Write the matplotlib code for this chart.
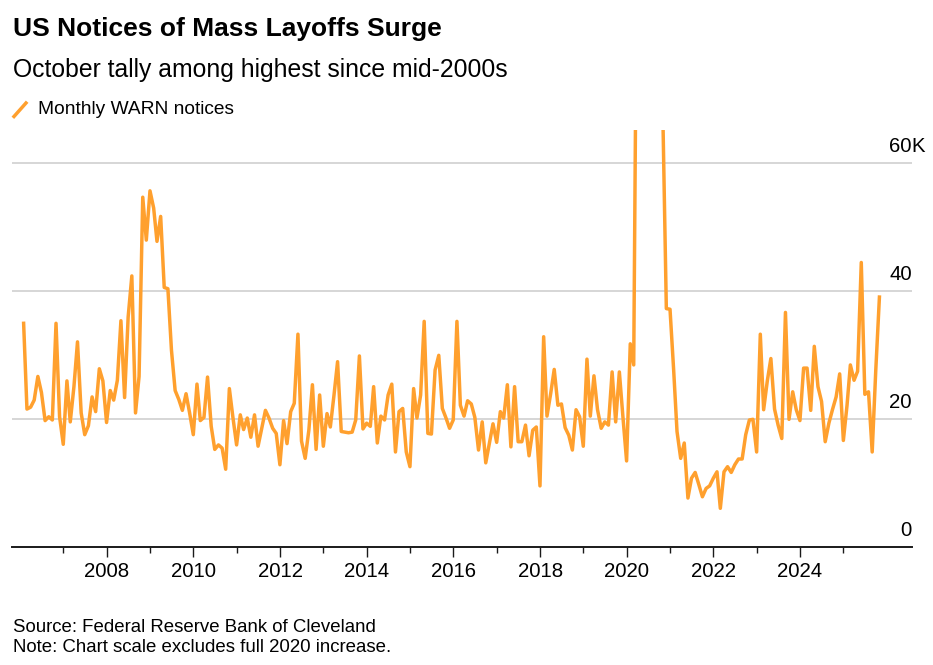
import pandas as pd
import matplotlib
matplotlib.use("Agg")
import matplotlib.pyplot as plt
from matplotlib.lines import Line2D
import matplotlib.transforms as mtransforms

plt.rcParams['font.family'] = ['Liberation Sans', 'DejaVu Sans']

# Monthly WARN notices (thousands), Jan 2006 .. Oct 2025
first_month = "2006-01"
warn_notices_k = [
    34.9, 21.5, 21.8, 22.9, 26.6, 24.1, 19.7, 20.3, 19.8, 34.9, 20.3, 16.0,   # 2006
    25.9, 19.5, 25.0, 32.0, 20.9, 17.5, 18.9, 23.4, 21.1, 27.8, 25.9, 19.4,   # 2007
    24.4, 22.9, 26.0, 35.3, 23.3, 35.9, 42.3, 20.9, 26.6, 54.6, 47.9, 55.6,   # 2008
    52.9, 47.7, 51.6, 40.5, 40.3, 30.7, 24.4, 23.0, 21.3, 23.9, 20.9, 17.5,   # 2009
    25.4, 19.7, 20.2, 26.5, 18.8, 15.2, 15.9, 15.4, 12.1, 24.7, 20.2, 15.9,   # 2010
    20.6, 18.3, 20.1, 17.1, 20.6, 15.7, 18.5, 21.3, 20.1, 18.5, 17.7, 12.8,   # 2011
    19.7, 16.1, 21.1, 22.4, 33.2, 16.5, 13.8, 18.2, 25.3, 15.2, 23.7, 15.7,   # 2012
    20.8, 18.7, 23.7, 28.9, 18.0, 17.9, 17.8, 17.9, 19.8, 29.8, 18.4, 19.3,   # 2013
    18.8, 25.0, 16.2, 20.4, 19.8, 23.7, 25.4, 14.8, 21.1, 21.6, 14.8, 12.5,   # 2014
    24.7, 20.1, 23.7, 35.2, 17.7, 17.6, 27.6, 29.9, 21.6, 20.1, 18.5, 19.8,   # 2015
    35.2, 22.1, 20.4, 22.8, 22.3, 20.2, 15.1, 19.5, 13.1, 16.2, 19.2, 16.3,   # 2016
    21.1, 20.1, 25.3, 15.6, 25.0, 16.4, 16.4, 19.0, 14.2, 18.2, 18.7, 9.5,    # 2017
    32.8, 20.4, 23.9, 27.7, 22.1, 22.3, 18.6, 17.4, 15.1, 21.4, 20.3, 15.7,   # 2018
    29.3, 20.4, 26.7, 21.4, 18.5, 19.5, 19.0, 27.3, 19.5, 27.3, 20.3, 13.4,   # 2019
    31.7, 28.4, 107.0, 250.0, 150.0, 110.0, 100.0, 90.0, 80.0, 68.0, 37.2, 37.1,  # 2020
    27.5, 18.0, 13.8, 16.2, 7.6, 10.7, 11.6, 9.7, 7.8, 9.1, 9.5, 10.7,       # 2021
    11.7, 6.0, 11.7, 12.5, 11.6, 12.8, 13.7, 13.7, 17.5, 19.8, 19.9, 14.8,    # 2022
    33.2, 21.4, 25.9, 29.4, 21.5, 19.0, 16.9, 36.6, 19.9, 24.2, 21.4, 19.7,   # 2023
    27.9, 27.9, 21.3, 31.3, 25.0, 22.7, 16.4, 19.3, 21.4, 23.4, 27.0, 16.6,   # 2024
    22.1, 28.4, 26.0, 27.4, 44.4, 23.8, 24.2, 14.8, 27.5, 39.0,               # 2025
]

major_years = list(range(2008, 2025, 2))
minor_years = list(range(2007, 2026, 2))
y_ticks = [0, 20, 40, 60]
y_labels = ["0", "20", "40", "60"]

title = "US Notices of Mass Layoffs Surge"
subtitle = "October tally among highest since mid-2000s"
legend_label = "Monthly WARN notices"
footer = ["Source: Federal Reserve Bank of Cleveland",
          "Note: Chart scale excludes full 2020 increase."]

orange = "#ffa02e"
W, H = 933, 665
tick_fs = 14.7

dates = pd.date_range(first_month, periods=len(warn_notices_k), freq="ME")

fig = plt.figure(figsize=(W / 100, H / 100), dpi=100)
ax = fig.add_axes([12 / W, 1 - 546.7 / H, (911.7 - 12) / W, (546.7 - 130) / H])

for v in y_ticks[1:]:
    ax.axhline(v, color="#cfcfcf", lw=1.2, zorder=1)

ax.plot(dates, warn_notices_k, color=orange, lw=2.5, zorder=3)

ax.set_xlim(pd.Timestamp("2005-10-25"), pd.Timestamp("2026-07-30"))
ax.set_ylim(0, 65.1)

for s in ["top", "left", "right"]:
    ax.spines[s].set_visible(False)
ax.spines["bottom"].set_color("#1a1a1a")
ax.spines["bottom"].set_linewidth(1.4)
ax.spines["bottom"].set_zorder(4)

ax.set_xticks([pd.Timestamp(f"{y}-01-01") for y in major_years])
ax.set_xticklabels([str(y) for y in major_years], fontsize=tick_fs)
ax.set_xticks([pd.Timestamp(f"{y}-01-01") for y in minor_years], minor=True)
ax.tick_params(axis="x", which="major", length=7.2, width=1.0, color="#1a1a1a", pad=3.5)
ax.tick_params(axis="x", which="minor", length=4.1, width=1.0, color="#1a1a1a")
ax.set_yticks([])

# y labels sit above the gridlines at the right edge
trans = mtransforms.blended_transform_factory(ax.transAxes, ax.transData)
for v, lab in zip(y_ticks, y_labels):
    ax.annotate(lab, xy=(1.0, v), xycoords=trans, xytext=(0, 7.5),
                textcoords="offset points", ha="right", va="baseline",
                fontsize=tick_fs, annotation_clip=False)
ax.annotate("K", xy=(1.0, y_ticks[-1]), xycoords=trans, xytext=(0, 7.5),
            textcoords="offset points", ha="left", va="baseline",
            fontsize=tick_fs, annotation_clip=False)

fig.text(13 / W, 1 - 36 / H, title, fontsize=19, fontweight="bold", va="baseline")
fig.text(13 / W, 1 - 77.3 / H, subtitle, fontsize=17.8, va="baseline")
fig.add_artist(Line2D([14 / W, 26 / W], [1 - 116.5 / H, 1 - 103 / H],
                      color=orange, lw=2.5, transform=fig.transFigure))
fig.text(38 / W, 1 - 114.3 / H, legend_label, fontsize=13.8, va="baseline")
fig.text(13 / W, 1 - 631.7 / H, footer[0], fontsize=13.4, va="baseline")
fig.text(13 / W, 1 - 651.7 / H, footer[1], fontsize=13.4, va="baseline")

fig.savefig("out.png", dpi=100)
